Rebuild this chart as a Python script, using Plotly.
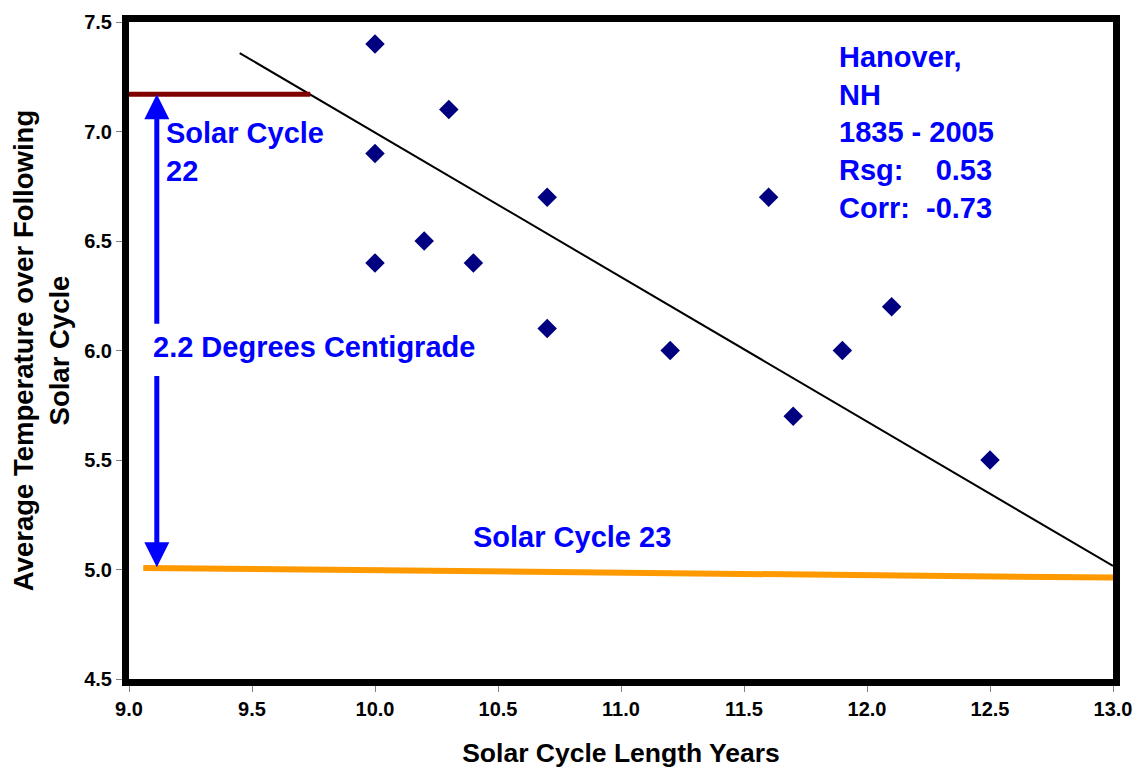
import plotly.graph_objects as go

# Data
cycle_length = [10.0, 10.3, 10.0, 10.7, 11.6, 10.2, 10.0, 10.4, 10.7, 11.2, 12.1, 11.9, 11.7, 12.5]
avg_temp = [7.4, 7.1, 6.9, 6.7, 6.7, 6.5, 6.4, 6.4, 6.1, 6.0, 6.2, 6.0, 5.7, 5.5]

trend_x = [9.45, 13.0]
trend_y = [7.358, 5.016]

cycle22_x = [9.0, 9.737]
cycle22_y = [7.17, 7.17]

cycle23_x = [9.058, 13.0]
cycle23_y = [5.007, 4.963]

arrow_x = 9.113
arrow_top = 7.17
arrow_bottom = 5.01
gap_top = 6.115
gap_bottom = 5.89

x_ticks = [9.0, 9.5, 10.0, 10.5, 11.0, 11.5, 12.0, 12.5, 13.0]
y_ticks = [4.5, 5.0, 5.5, 6.0, 6.5, 7.0, 7.5]

FONT = "Liberation Sans, Arial, sans-serif"
BLUE = "#0000FF"

fig = go.Figure()

fig.add_trace(go.Scatter(x=trend_x, y=trend_y, mode="lines",
                         line=dict(color="black", width=2), showlegend=False, hoverinfo="skip"))
fig.add_trace(go.Scatter(x=cycle22_x, y=cycle22_y, mode="lines",
                         line=dict(color="#800000", width=5), showlegend=False, hoverinfo="skip"))
fig.add_trace(go.Scatter(x=cycle23_x, y=cycle23_y, mode="lines",
                         line=dict(color="#FF9900", width=6), showlegend=False, hoverinfo="skip"))
fig.add_trace(go.Scatter(x=cycle_length, y=avg_temp, mode="markers",
                         marker=dict(symbol="diamond", size=15, color="#000080"),
                         showlegend=False))

# Arrows
for tip, tail in [(arrow_top, gap_top), (arrow_bottom, gap_bottom)]:
    fig.add_annotation(x=arrow_x, y=tip, ax=arrow_x, ay=tail, xref="x", yref="y",
                       axref="x", ayref="y", text="", showarrow=True,
                       arrowhead=2, arrowsize=1.0, arrowwidth=5, arrowcolor=BLUE)

ann_font = dict(family=FONT, size=29, color=BLUE, weight="bold")

fig.add_annotation(x=9.141, y=6.907, xref="x", yref="y", xanchor="left", yanchor="middle",
                   text="Solar Cycle<br>22", showarrow=False, align="left", font=ann_font)
fig.add_annotation(x=9.091, y=6.016, xref="x", yref="y", xanchor="left", yanchor="middle",
                   text="2.2 Degrees Centigrade", showarrow=False, font=ann_font)
fig.add_annotation(x=10.389, y=5.147, xref="x", yref="y", xanchor="left", yanchor="middle",
                   text="Solar Cycle 23", showarrow=False, font=ann_font)
fig.add_annotation(x=11.88, y=6.994, xref="x", yref="y", xanchor="left", yanchor="middle",
                   text="Hanover,<br>NH<br>1835 - 2005<br>Rsg:\u00a0\u00a0\u00a0 0.53<br>Corr:\u00a0 -0.73",
                   showarrow=False, align="left", font=ann_font)

axis_common = dict(
    showgrid=False, zeroline=False, automargin=False,
    showline=True, linecolor="black", linewidth=7, mirror=True,
    ticks="outside", ticklen=6, tickwidth=1, tickcolor="#808080",
    tickfont=dict(family=FONT, size=20, color="black", weight="bold"),
)

fig.update_xaxes(range=[9.0, 13.0], tickvals=x_ticks,
                 ticktext=[f"{v:.1f}" for v in x_ticks],
                 title=dict(text="Solar Cycle Length Years", standoff=27,
                            font=dict(family=FONT, size=26.5, color="black", weight="bold")),
                 **axis_common)
fig.update_yaxes(range=[4.5, 7.5], tickvals=y_ticks,
                 ticktext=[f"{v:.1f}" for v in y_ticks],
                 title=dict(text="Average Temperature over Following<br>Solar Cycle", standoff=12,
                            font=dict(family=FONT, size=27.5, color="black", weight="bold")),
                 **axis_common)

fig.update_layout(
    width=1141, height=769,
    margin=dict(l=121, r=36, t=14, b=98),
    plot_bgcolor="white", paper_bgcolor="white",
    font=dict(family=FONT),
)

fig.write_html("out.html")
